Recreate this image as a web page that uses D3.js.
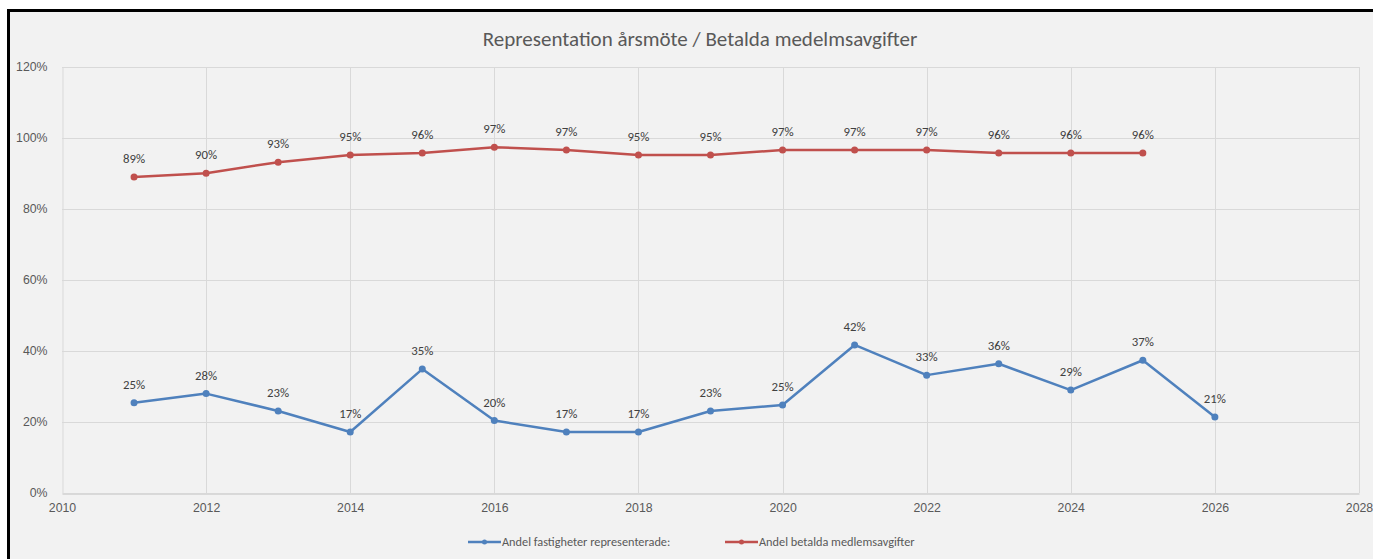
<!DOCTYPE html>
<html>
<head>
<meta charset="utf-8">
<script src="https://cdn.jsdelivr.net/npm/d3@7"></script>
<style>
  html, body { margin: 0; background: #fff; overflow: hidden; }
  svg { display: block; }
</style>
</head>
<body>
<div id="chart"></div>
<script>
// data (share in percent)
const chartTitle = "Representation årsmöte / Betalda medelmsavgifter";
const yearsBlue = [2011, 2012, 2013, 2014, 2015, 2016, 2017, 2018, 2019, 2020, 2021, 2022, 2023, 2024, 2025, 2026];
const valuesBlue = [25.4, 28.0, 23.1, 17.2, 34.9, 20.4, 17.2, 17.2, 23.1, 24.8, 41.7, 33.2, 36.4, 29.0, 37.4, 21.4];
const yearsRed = [2011, 2012, 2013, 2014, 2015, 2016, 2017, 2018, 2019, 2020, 2021, 2022, 2023, 2024, 2025];
const valuesRed = [89.0, 90.1, 93.2, 95.2, 95.8, 97.4, 96.6, 95.2, 95.2, 96.6, 96.6, 96.6, 95.8, 95.8, 95.8];
const seriesNames = ["Andel fastigheter representerade:", "Andel betalda medlemsavgifter"];
const xTicks = [2010, 2012, 2014, 2016, 2018, 2020, 2022, 2024, 2026, 2028];
const yTicks = [0, 20, 40, 60, 80, 100, 120];

const W = 1373, H = 559;
const margin = {top: 67, right: 14, bottom: 67, left: 62};

const svg = d3.select("#chart").append("svg")
  .attr("width", W)
  .attr("height", H)
  .style("font-family", "Calibri, Carlito, 'Open Sans', sans-serif");

// chart background and black frame
svg.append("rect")
  .attr("x", 8).attr("y", 10)
  .attr("width", W - 8).attr("height", H - 10)
  .attr("fill", "#f2f2f2");
svg.append("path")
  .attr("d", `M8.5,${H} V10.5 H${W}`)
  .attr("fill", "none")
  .attr("stroke", "#000")
  .attr("stroke-width", 3);

const x = d3.scaleLinear().domain([2010, 2028]).range([margin.left, W - margin.right]);
const y = d3.scaleLinear().domain([0, 120]).range([H - margin.bottom + 1, margin.top]);

// gridlines
svg.append("g")
  .selectAll("line")
  .data(yTicks.filter(d => d > 0))
  .join("line")
    .attr("x1", x(2010)).attr("x2", x(2028))
    .attr("y1", d => Math.round(y(d)) + 0.5).attr("y2", d => Math.round(y(d)) + 0.5)
    .attr("stroke", "#d9d9d9");
svg.append("g")
  .selectAll("line")
  .data(xTicks.filter(d => d > 2010))
  .join("line")
    .attr("x1", d => Math.round(x(d)) + 0.5).attr("x2", d => Math.round(x(d)) + 0.5)
    .attr("y1", y(0)).attr("y2", y(120))
    .attr("stroke", "#d9d9d9");

// axes
const xAxis = svg.append("g")
  .attr("transform", `translate(0,${Math.round(y(0)) + 0.5})`)
  .call(d3.axisBottom(x).tickValues(xTicks).tickFormat(d3.format("d")).tickSize(0).tickPadding(10));
xAxis.select(".domain").attr("stroke", "#bfbfbf");
xAxis.selectAll("text").attr("fill", "#595959").style("font-size", "12.3px");

const yAxis = svg.append("g")
  .attr("transform", `translate(${Math.round(x(2010)) + 0.5},0)`)
  .call(d3.axisLeft(y).tickValues(yTicks).tickFormat(d => d + "%").tickSize(0).tickPadding(15));
yAxis.select(".domain").attr("stroke", "#d9d9d9");
yAxis.selectAll("text").attr("fill", "#595959").style("font-size", "12.3px");

// title
svg.append("text")
  .attr("x", 700)
  .attr("y", 46)
  .attr("text-anchor", "middle")
  .attr("fill", "#595959")
  .style("font-size", "21px")
  .text(chartTitle);

const series = [
  {name: seriesNames[0], color: "#4f81bd", pts: yearsBlue.map((yr, i) => ({yr, v: valuesBlue[i]}))},
  {name: seriesNames[1], color: "#c0504d", pts: yearsRed.map((yr, i) => ({yr, v: valuesRed[i]}))}
];

const line = d3.line().x(d => x(d.yr)).y(d => y(d.v));

series.forEach(s => {
  const g = svg.append("g");
  g.append("path")
    .datum(s.pts)
    .attr("d", line)
    .attr("fill", "none")
    .attr("stroke", s.color)
    .attr("stroke-width", 2.5)
    .attr("stroke-linejoin", "round");
  g.selectAll("circle")
    .data(s.pts)
    .join("circle")
      .attr("cx", d => x(d.yr))
      .attr("cy", d => y(d.v))
      .attr("r", 3.5)
      .attr("fill", s.color);
  g.selectAll("text")
    .data(s.pts)
    .join("text")
      .attr("x", d => x(d.yr))
      .attr("y", d => y(d.v) - 14)
      .attr("text-anchor", "middle")
      .attr("fill", "#404040")
      .style("font-size", "12.8px")
      .text(d => Math.round(d.v) + "%");
});

// legend
const legend = svg.append("g").attr("transform", "translate(468,542)");
const legendX = [0, 257];
series.forEach((s, i) => {
  const lg = legend.append("g").attr("transform", `translate(${legendX[i]},0)`);
  lg.append("line").attr("x1", 0).attr("x2", 33).attr("y1", 0).attr("y2", 0)
    .attr("stroke", s.color).attr("stroke-width", 2.5);
  lg.append("circle").attr("cx", 16.5).attr("cy", 0).attr("r", 2.5).attr("fill", s.color);
  lg.append("text").attr("x", 34).attr("y", 0).attr("dy", "0.35em")
    .attr("fill", "#595959").style("font-size", "12.3px")
    .text(s.name);
});
</script>
</body>
</html>
